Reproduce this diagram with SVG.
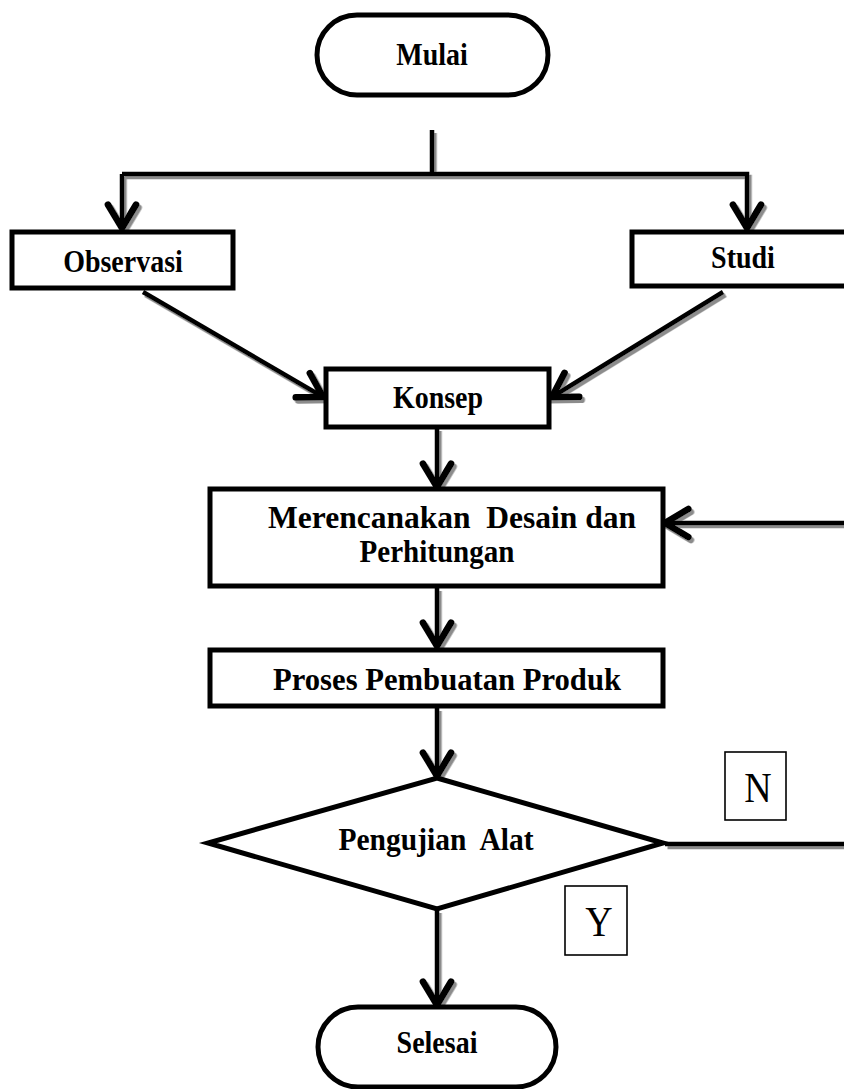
<svg xmlns="http://www.w3.org/2000/svg" width="844" height="1089" viewBox="0 0 844 1089">
<defs>
<style>
.box{fill:#fff;stroke:#000;stroke-width:5}
.lbl{font-family:"Liberation Serif","Times New Roman",serif;font-weight:bold;font-size:28px;fill:#000;text-anchor:middle;white-space:pre}
.big{font-size:30px}
.yn{font-family:"Liberation Serif","Times New Roman",serif;font-size:38px;fill:#000;text-anchor:middle}
.ynbox{fill:#fff;stroke:#000;stroke-width:1.6}
.ln{fill:none;stroke:#000;stroke-width:4.5;stroke-linejoin:miter}
</style>
<marker id="arr" markerUnits="userSpaceOnUse" markerWidth="40" markerHeight="40" refX="0" refY="0" viewBox="-25 -15 30 30" orient="auto" overflow="visible">
<path d="M-17.5,-10.5 L0,0 L-17.5,10.5" fill="none" stroke="#000" stroke-width="5" stroke-linecap="round" stroke-linejoin="miter"/>
</marker>
<filter id="sh" x="-10%" y="-10%" width="130%" height="130%">
<feDropShadow dx="2.5" dy="3" stdDeviation="0.3" flood-color="#8c8c8c" flood-opacity="1"/>
</filter>
</defs>

<g id="connectors" filter="url(#sh)">
<path class="ln" d="M432,130 V174"/>
<path class="ln" d="M122,174 H747 V228" marker-end="url(#arr)"/>
<path class="ln" d="M122,174 V228" marker-end="url(#arr)"/>
<path class="ln" d="M143,292 L323,397" marker-end="url(#arr)"/>
<path class="ln" d="M723,292 L552,397" marker-end="url(#arr)"/>
<path class="ln" d="M437,428 V487" marker-end="url(#arr)"/>
<path class="ln" d="M437,588 V646" marker-end="url(#arr)"/>
<path class="ln" d="M437,708 V776" marker-end="url(#arr)"/>
<path class="ln" d="M437,910 V1005" marker-end="url(#arr)"/>
<path class="ln" d="M665,844 H850"/>
<path class="ln" d="M850,523 H665" marker-end="url(#arr)"/>
</g>

<g id="mulai">
<rect class="box" x="317" y="15" width="231" height="80" rx="40" ry="40"/>
<text class="lbl" transform="translate(432,65) scale(1,1.15)">Mulai</text>
</g>
<g id="observasi">
<rect class="box" x="12" y="232" width="221" height="56"/>
<text class="lbl" transform="translate(123,272) scale(1,1.15)">Observasi</text>
</g>
<g id="studi">
<rect class="box" x="632" y="232" width="230" height="54"/>
<text class="lbl" transform="translate(743,268) scale(1,1.15)">Studi</text>
</g>
<g id="konsep">
<rect class="box" x="326" y="369" width="223" height="58"/>
<text class="lbl" transform="translate(438,408) scale(1,1.15)">Konsep</text>
</g>
<g id="merencanakan">
<rect class="box" x="210" y="489" width="453" height="97"/>
<text class="lbl big" transform="translate(452,528) scale(1,1.08)" textLength="368" lengthAdjust="spacingAndGlyphs">Merencanakan  Desain dan</text>
<text class="lbl big" transform="translate(437,562) scale(1,1.08)" textLength="155" lengthAdjust="spacingAndGlyphs">Perhitungan</text>
</g>
<g id="proses">
<rect class="box" x="210" y="650" width="453" height="56"/>
<text class="lbl big" transform="translate(447,690) scale(1,1.08)" textLength="348" lengthAdjust="spacingAndGlyphs">Proses Pembuatan Produk</text>
</g>
<g id="pengujian">
<polygon class="box" points="437,778 663,843 437,909 208,843"/>
<text class="lbl" transform="translate(436,850) scale(1,1.15)" textLength="195" lengthAdjust="spacingAndGlyphs">Pengujian  Alat</text>
</g>
<g id="label-n">
<rect class="ynbox" x="725" y="752" width="61" height="68"/>
<text class="yn" transform="translate(758,802) scale(1,1.12)">N</text>
</g>
<g id="label-y">
<rect class="ynbox" x="565" y="886" width="62" height="69"/>
<text class="yn" transform="translate(599,936) scale(1,1.12)">Y</text>
</g>
<g id="selesai">
<rect class="box" x="318" y="1007" width="238" height="80" rx="40" ry="40"/>
<text class="lbl" transform="translate(437,1053) scale(1,1.15)">Selesai</text>
</g>
</svg>
